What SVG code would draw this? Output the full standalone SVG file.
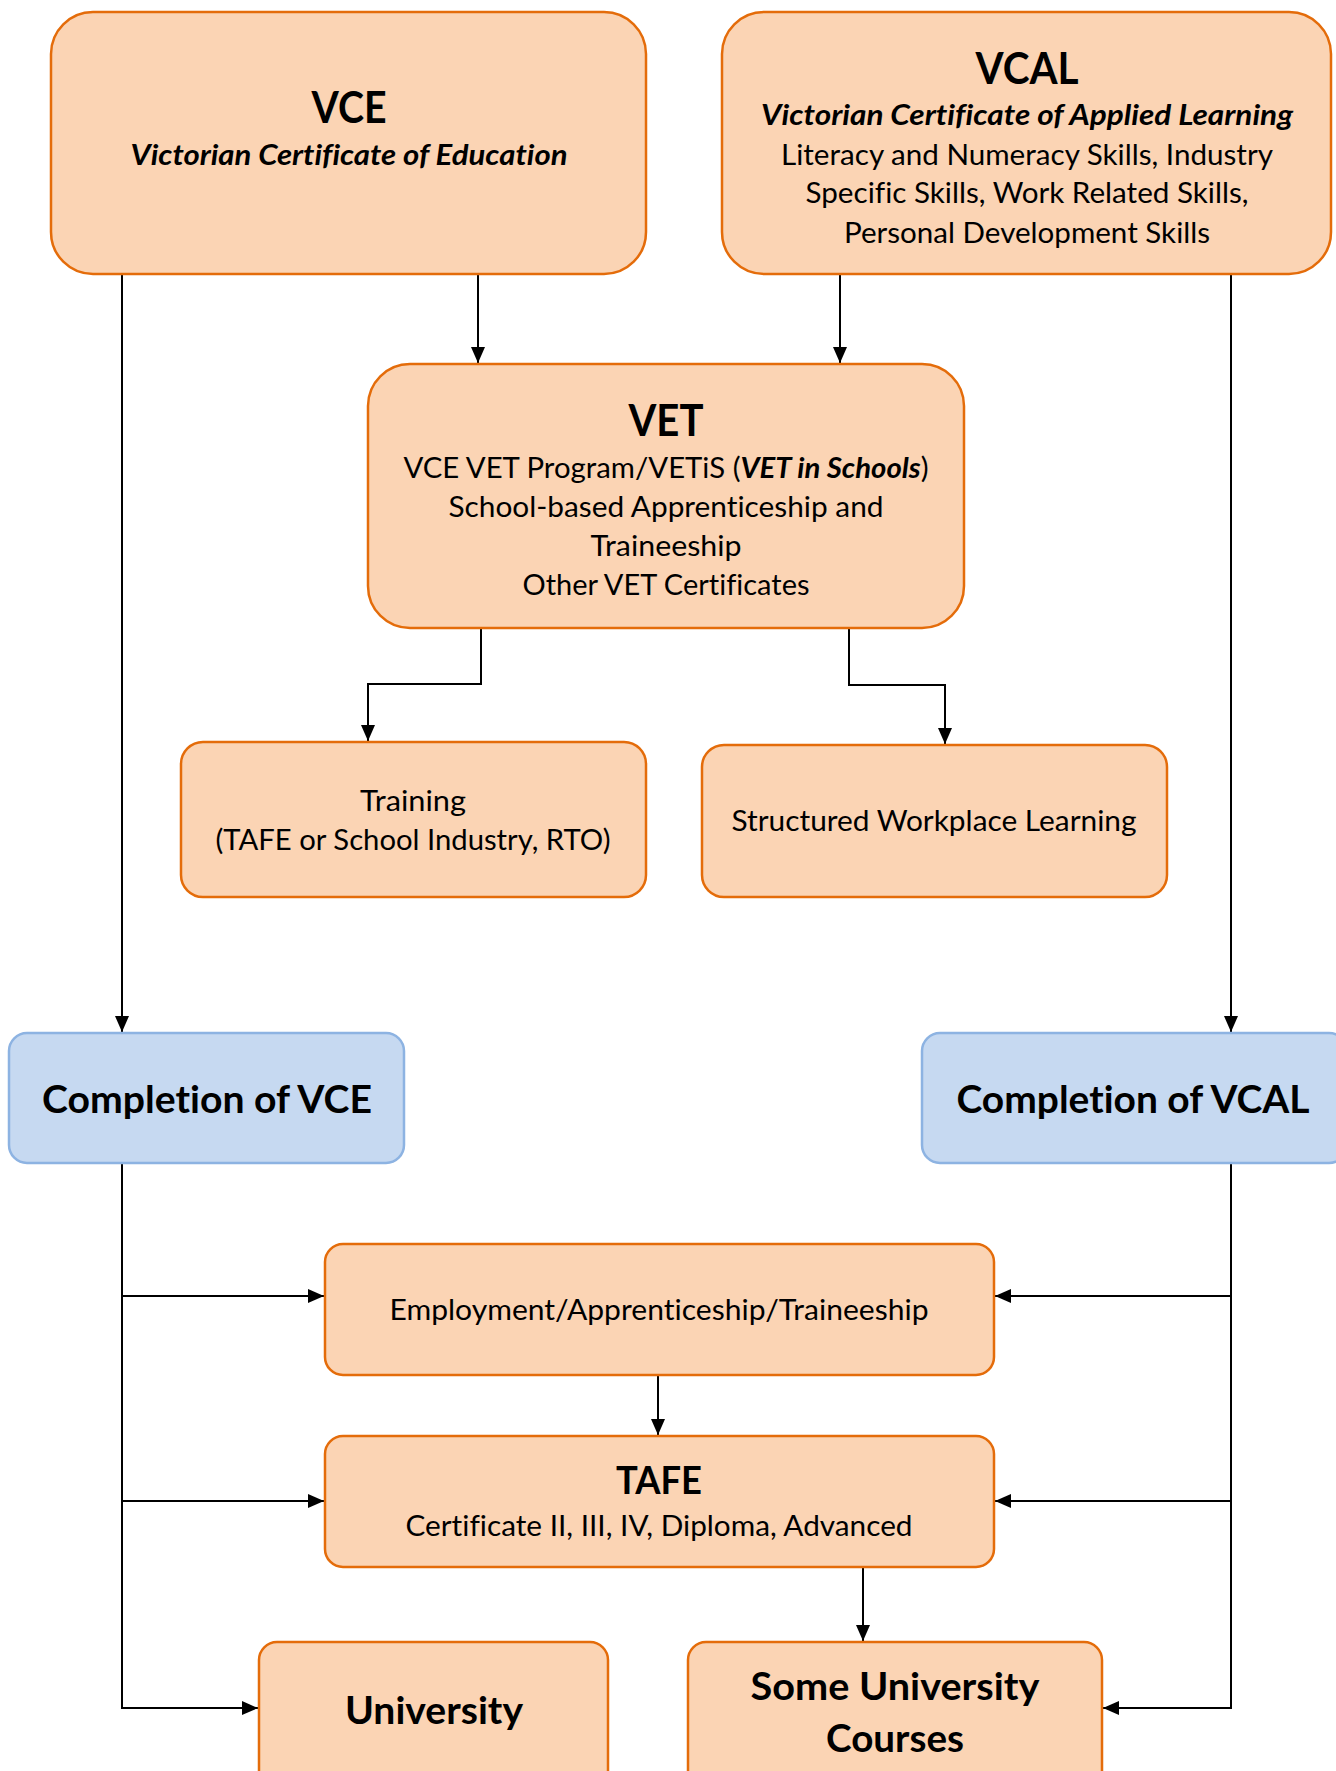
<svg xmlns="http://www.w3.org/2000/svg" width="1336" height="1771" viewBox="0 0 1336 1771">
<style>
.box{fill:#FBD4B4;stroke:#E46C0A;stroke-width:2.5}
.blue{fill:#C6D9F1;stroke:#8DB3E2;stroke-width:2.5}
text{font-family:Lato,"Open Sans","Noto Sans",sans-serif;fill:#000;text-anchor:middle;font-variant-ligatures:none;font-feature-settings:"liga" 0,"dlig" 0}
.t{font-size:29px}
.h{font-size:43px;font-weight:bold}
.h2{font-size:38px;font-weight:bold}
.bi{font-weight:bold;font-style:italic}
.con{fill:none;stroke:#000;stroke-width:2}
</style>
<defs>
<marker id="arr" markerUnits="userSpaceOnUse" markerWidth="17" markerHeight="15" refX="16" refY="7" orient="auto">
<path d="M0,0 L16,7 L0,14 Z" fill="#000"/>
</marker>
</defs>
<rect width="1336" height="1771" fill="#fff"/>
<g id="connectors">
<path class="con" d="M122 274 V1032" marker-end="url(#arr)"/>
<path class="con" d="M478 274 V363" marker-end="url(#arr)"/>
<path class="con" d="M840 274 V363" marker-end="url(#arr)"/>
<path class="con" d="M1231 274 V1032" marker-end="url(#arr)"/>
<path class="con" d="M481 628 V684 H368 V741" marker-end="url(#arr)"/>
<path class="con" d="M849 628 V685 H945 V744" marker-end="url(#arr)"/>
<path class="con" d="M122 1163 V1708 H258" marker-end="url(#arr)"/>
<path class="con" d="M122 1296 H324" marker-end="url(#arr)"/>
<path class="con" d="M122 1501 H324" marker-end="url(#arr)"/>
<path class="con" d="M1231 1163 V1708 H1103" marker-end="url(#arr)"/>
<path class="con" d="M1231 1296 H995" marker-end="url(#arr)"/>
<path class="con" d="M1231 1501 H995" marker-end="url(#arr)"/>
<path class="con" d="M658 1375 V1435" marker-end="url(#arr)"/>
<path class="con" d="M863 1567 V1641" marker-end="url(#arr)"/>
</g>
<g id="vce">
<rect class="box" x="51" y="12" width="595" height="262" rx="42"/>
<text class="h" x="349" y="123" textLength="75" lengthAdjust="spacingAndGlyphs">VCE</text>
<text class="t bi" x="349" y="165" textLength="437" lengthAdjust="spacingAndGlyphs">Victorian Certificate of Education</text>
</g>
<g id="vcal">
<rect class="box" x="722" y="12" width="609" height="262" rx="42"/>
<text class="h" x="1027" y="84" textLength="103" lengthAdjust="spacingAndGlyphs">VCAL</text>
<text class="t bi" x="1027" y="125" textLength="532" lengthAdjust="spacingAndGlyphs">Victorian Certificate of Applied Learning</text>
<text class="t" x="1027" y="165" textLength="492" lengthAdjust="spacingAndGlyphs">Literacy and Numeracy Skills, Industry</text>
<text class="t" x="1027" y="203" textLength="443" lengthAdjust="spacingAndGlyphs">Specific Skills, Work Related Skills,</text>
<text class="t" x="1027" y="243" textLength="366" lengthAdjust="spacingAndGlyphs">Personal Development Skills</text>
</g>
<g id="vet">
<rect class="box" x="368" y="364" width="596" height="264" rx="42"/>
<text class="h" x="666" y="436" textLength="75" lengthAdjust="spacingAndGlyphs">VET</text>
<text class="t" x="666" y="478" textLength="525" lengthAdjust="spacingAndGlyphs">VCE VET Program/VETiS (<tspan class="bi">VET in Schools</tspan>)</text>
<text class="t" x="666" y="517" textLength="435" lengthAdjust="spacingAndGlyphs">School-based Apprenticeship and</text>
<text class="t" x="666" y="556" textLength="151" lengthAdjust="spacingAndGlyphs">Traineeship</text>
<text class="t" x="666" y="595" textLength="287" lengthAdjust="spacingAndGlyphs">Other VET Certificates</text>
</g>
<g id="training">
<rect class="box" x="181" y="742" width="465" height="155" rx="22"/>
<text class="t" x="413" y="811" textLength="106" lengthAdjust="spacingAndGlyphs">Training</text>
<text class="t" x="413" y="850" textLength="395" lengthAdjust="spacingAndGlyphs">(TAFE or School Industry, RTO)</text>
</g>
<g id="swl">
<rect class="box" x="702" y="745" width="465" height="152" rx="22"/>
<text class="t" x="934" y="831" textLength="405" lengthAdjust="spacingAndGlyphs">Structured Workplace Learning</text>
</g>
<g id="completion-vce">
<rect class="blue" x="9" y="1033" width="395" height="130" rx="18"/>
<text class="h2" x="207" y="1113" textLength="330" lengthAdjust="spacingAndGlyphs">Completion of VCE</text>
</g>
<g id="completion-vcal">
<rect class="blue" x="922" y="1033" width="425" height="130" rx="18"/>
<text class="h2" x="1133" y="1113" textLength="353" lengthAdjust="spacingAndGlyphs">Completion of VCAL</text>
</g>
<g id="employment">
<rect class="box" x="325" y="1244" width="669" height="131" rx="18"/>
<text class="t" x="659" y="1320" textLength="539" lengthAdjust="spacingAndGlyphs">Employment/Apprenticeship/Traineeship</text>
</g>
<g id="tafe">
<rect class="box" x="325" y="1436" width="669" height="131" rx="18"/>
<text class="h2" x="659" y="1494" textLength="86" lengthAdjust="spacingAndGlyphs">TAFE</text>
<text class="t" x="659" y="1536" textLength="507" lengthAdjust="spacingAndGlyphs">Certificate II, III, IV, Diploma, Advanced</text>
</g>
<g id="university">
<rect class="box" x="259" y="1642" width="349" height="150" rx="18"/>
<text class="h2" x="434" y="1724" textLength="178" lengthAdjust="spacingAndGlyphs">University</text>
</g>
<g id="some-university">
<rect class="box" x="688" y="1642" width="414" height="150" rx="18"/>
<text class="h2" x="895" y="1700" textLength="289" lengthAdjust="spacingAndGlyphs">Some University</text>
<text class="h2" x="895" y="1752" textLength="138" lengthAdjust="spacingAndGlyphs">Courses</text>
</g>
</svg>
